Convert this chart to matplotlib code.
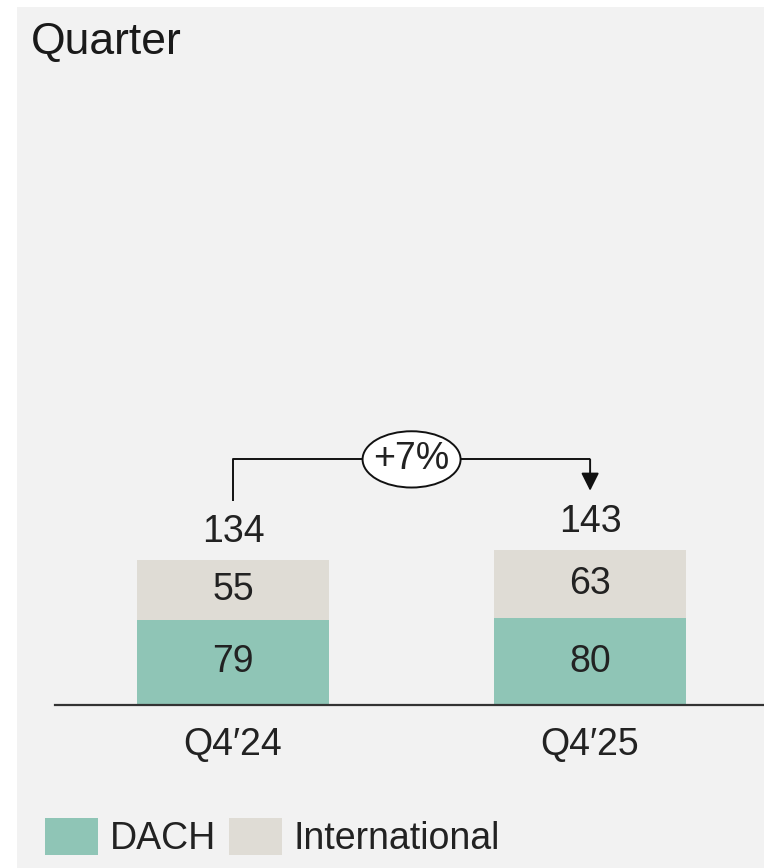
import numpy as np
import matplotlib.pyplot as plt
from matplotlib.patches import Rectangle, Ellipse, FancyArrowPatch, Patch

plt.rcParams['font.family'] = ['Liberation Sans', 'DejaVu Sans']

# data
quarters = ["Q4\u203224", "Q4\u203225"]
dach = np.array([79, 80])
international = np.array([55, 63])
totals = dach + international
change = "+7%"

col_dach = "#8fc5b6"
col_int = "#dfdcd5"
bg = "#f2f2f2"
ink = "#222222"
fs = 27

W, H = 764, 868
fig = plt.figure(figsize=(W / 100, H / 100), dpi=100)
fig.patch.set_facecolor("white")

# grey panel behind everything
fig.patches.append(Rectangle((17 / W, 0), 1 - 17 / W, 1 - 7 / H,
                             transform=fig.transFigure, facecolor=bg,
                             edgecolor="none", zorder=-10))

fig.text(31 / W, 1 - 42 / H, "Quarter", fontsize=32, color="#1a1a1a",
         ha="left", va="center")

# axes: baseline at y=705px, from x=55px to right edge
ax_left, ax_bottom, ax_top = 55, 705, 70
ax = fig.add_axes([ax_left / W, 1 - ax_bottom / H, 1 - ax_left / W,
                   (ax_bottom - ax_top) / H])
ax.set_facecolor("none")
px_per_unit = 1.082
ax.set_ylim(0, (ax_bottom - ax_top) / px_per_unit)
ax.set_xlim(-0.4986, 1.487)

x = np.arange(len(quarters))
bw = 0.538
ax.bar(x, dach, bw, color=col_dach, label="DACH")
ax.bar(x, international, bw, bottom=dach, color=col_int, label="International")

for i in range(len(x)):
    ax.text(x[i], dach[i] / 2, str(dach[i]), ha="center", va="center",
            fontsize=fs, color=ink)
    ax.text(x[i], dach[i] + international[i] / 2, str(international[i]),
            ha="center", va="center", fontsize=fs, color=ink)
    ax.text(x[i], totals[i] + 26, str(totals[i]), ha="center", va="center",
            fontsize=fs, color=ink)

# growth bracket
top_y = totals.max() + 84
ax.plot([x[0], x[0], x[1]], [totals[0] + 55, top_y, top_y], color="#111111",
        lw=1.4, solid_capstyle="butt", zorder=3)
arr = FancyArrowPatch((x[1], top_y), (x[1], totals[1] + 55),
                      arrowstyle="-|>,head_length=0.54,head_width=0.27",
                      mutation_scale=20, color="#111111", lw=1.4,
                      shrinkA=0, shrinkB=0, zorder=3)
ax.add_patch(arr)
ax.add_patch(Ellipse((0.5, top_y), 0.2745, 52, facecolor="white",
                     edgecolor="#111111", lw=1.4, zorder=4))
ax.text(0.5, top_y, change, ha="center", va="center", fontsize=fs,
        color=ink, zorder=5)

for s in ["top", "right", "left"]:
    ax.spines[s].set_visible(False)
ax.spines["bottom"].set_color("#333333")
ax.spines["bottom"].set_linewidth(1.6)
ax.set_yticks([])
ax.set_xticks(x)
ax.set_xticklabels(quarters, fontsize=fs, color=ink)
ax.tick_params(axis="x", length=0, pad=16)

handles = [Patch(facecolor=col_dach, edgecolor="none"),
           Patch(facecolor=col_int, edgecolor="none")]
fig.legend(handles, ["DACH", "International"], loc="lower left",
           bbox_to_anchor=(45 / W, 11 / H), ncol=2, frameon=False,
           fontsize=fs, handlelength=1.42, handleheight=1.15,
           handletextpad=0.3, columnspacing=0.35, borderpad=0,
           borderaxespad=0, labelcolor=ink)

fig.savefig("out.png", dpi=100, facecolor=fig.get_facecolor())
